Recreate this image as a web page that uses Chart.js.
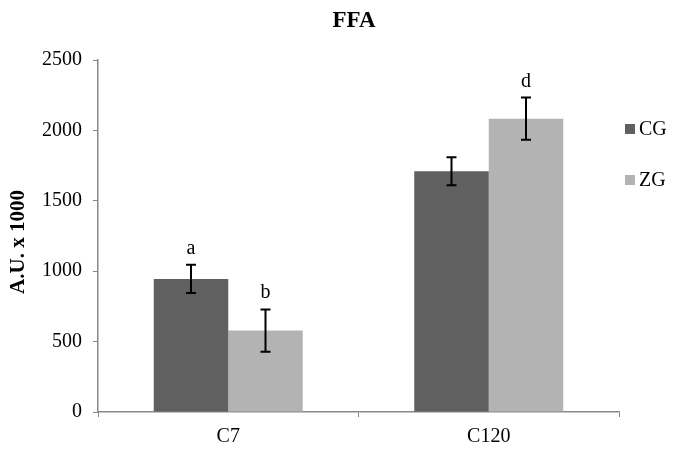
<!DOCTYPE html>
<html>
<head>
<meta charset="utf-8">
<script src="https://cdn.jsdelivr.net/npm/chart.js@4/dist/chart.umd.min.js"></script>
<style>
  body { margin: 0; background: #fff; }
  #wrap { width: 679px; height: 456px; }
</style>
</head>
<body>
<div id="wrap"><canvas id="ffaChart" width="679" height="456"></canvas></div>
<script>
// values (A.U. x 1000)
const categories = ['C7', 'C120'];
const seriesNames = ['CG', 'ZG'];
const cgValues = [945, 1710];
const zgValues = [578, 2083];
const cgErrors = [100, 100];
const zgErrors = [150, 150];
const cgLetters = ['a', ''];
const zgLetters = ['b', 'd'];
const yMax = 2500;
const yStep = 500;

const serif = "'Liberation Serif', 'Times New Roman', serif";
const axisColor = '#888888';

// error bars + significance letters
const errorBarPlugin = {
    id: 'errorBars',
    afterDatasetsDraw(chart) {
        const ctx = chart.ctx;
        const yScale = chart.scales.y;
        chart.data.datasets.forEach((ds, i) => {
            const meta = chart.getDatasetMeta(i);
            meta.data.forEach((bar, j) => {
                const v = ds.data[j];
                const err = ds.errors[j];
                const top = yScale.getPixelForValue(v + err);
                const bottom = yScale.getPixelForValue(v - err);
                ctx.save();
                ctx.strokeStyle = '#000';
                ctx.lineWidth = 2;
                ctx.beginPath();
                ctx.moveTo(bar.x, top);
                ctx.lineTo(bar.x, bottom);
                ctx.moveTo(bar.x - 5, top);
                ctx.lineTo(bar.x + 5, top);
                ctx.moveTo(bar.x - 5, bottom);
                ctx.lineTo(bar.x + 5, bottom);
                ctx.stroke();
                if (ds.letters[j]) {
                    ctx.fillStyle = '#000';
                    ctx.font = `20px ${serif}`;
                    ctx.textAlign = 'center';
                    ctx.textBaseline = 'alphabetic';
                    ctx.fillText(ds.letters[j], bar.x, top - 11);
                }
                ctx.restore();
            });
        });
    }
};

// title, y title and legend as in the original figure
const decorPlugin = {
    id: 'decor',
    afterDraw(chart) {
        const ctx = chart.ctx;
        ctx.save();
        ctx.fillStyle = '#000';
        ctx.textAlign = 'center';
        ctx.textBaseline = 'middle';
        ctx.font = `bold 23px ${serif}`;
        ctx.fillText('FFA', 354, 21);

        ctx.save();
        ctx.translate(19, 242);
        ctx.rotate(-Math.PI / 2);
        ctx.font = `bold 21px ${serif}`;
        ctx.fillText('A.U. x 1000', 0, 0);
        ctx.restore();

        ctx.textAlign = 'left';
        ctx.font = `20px ${serif}`;
        const legendY = [129, 180];
        chart.data.datasets.forEach((ds, i) => {
            ctx.fillStyle = ds.backgroundColor;
            ctx.fillRect(625, legendY[i] - 5, 10, 10);
            ctx.fillStyle = '#000';
            ctx.fillText(ds.label, 639, legendY[i] + 1);
        });
        ctx.restore();
    }
};

new Chart(document.getElementById('ffaChart'), {
    type: 'bar',
    data: {
        labels: categories,
        datasets: [
            {
                label: seriesNames[0],
                data: cgValues,
                errors: cgErrors,
                letters: cgLetters,
                backgroundColor: '#606060'
            },
            {
                label: seriesNames[1],
                data: zgValues,
                errors: zgErrors,
                letters: zgLetters,
                backgroundColor: '#b3b3b3'
            }
        ]
    },
    options: {
        responsive: false,
        animation: false,
        devicePixelRatio: 1,
        layout: { padding: { top: 60, right: 60, left: 0, bottom: 0 } },
        datasets: {
            bar: { categoryPercentage: 0.572, barPercentage: 1.0 }
        },
        plugins: {
            legend: { display: false },
            title: { display: false },
            tooltip: { enabled: false }
        },
        scales: {
            x: {
                offset: true,
                grid: { display: true, offset: true, drawOnChartArea: false, tickLength: 5, color: axisColor },
                border: { color: axisColor, width: 1.5 },
                ticks: { color: '#000', font: { family: serif, size: 20 }, padding: 8 },
                afterFit(scale) { scale.height = 44; }
            },
            y: {
                min: 0,
                max: yMax,
                grid: { display: true, drawOnChartArea: false, tickLength: 5, color: axisColor },
                border: { color: axisColor, width: 1.5 },
                ticks: {
                    stepSize: yStep,
                    color: '#000',
                    font: { family: serif, size: 20 },
                    padding: 11,
                    callback: (value) => String(value)
                },
                afterFit(scale) { scale.width = 98; }
            }
        }
    },
    plugins: [errorBarPlugin, decorPlugin]
});
</script>
</body>
</html>
